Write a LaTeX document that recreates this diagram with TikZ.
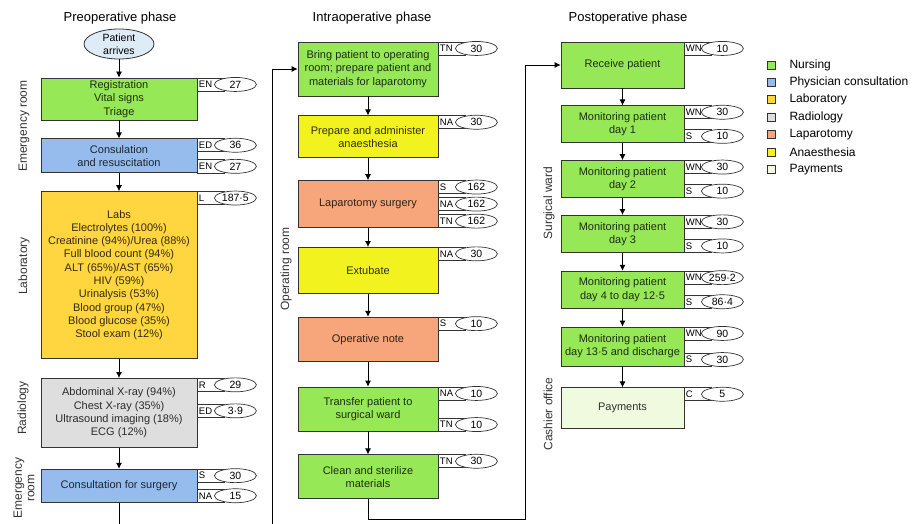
\documentclass[tikz,border=0pt]{standalone}
\usepackage{fontspec}
\setmainfont{Liberation Sans}
\usetikzlibrary{shapes.geometric, arrows, positioning, calc, arrows.meta}

\definecolor{nursing}{RGB}{150,232,86}
\definecolor{physician}{RGB}{150,188,238}
\definecolor{laboratory}{RGB}{255,214,64}
\definecolor{radiology}{RGB}{222,222,222}
\definecolor{laparotomy}{RGB}{247,165,122}
\definecolor{anaesthesia}{RGB}{242,242,30}
\definecolor{payments}{RGB}{240,250,222}
\definecolor{arrival}{RGB}{222,236,248}

\tikzstyle{arrow} = [-{Latex[length=6pt,width=6pt]}, line width=0.8pt]
\tikzstyle{stage} = [draw=black!80, line width=0.8pt, rectangle, align=center, inner sep=1pt, font=\fontsize{11}{13.3}\selectfont]
\tikzstyle{nurse} = [stage, fill=nursing, text=nursing!20!black]
\tikzstyle{doctor} = [stage, fill=physician, text=physician!20!black]
\tikzstyle{lab} = [stage, fill=laboratory, text=laboratory!20!black]
\tikzstyle{radio} = [stage, fill=radiology, text=radiology!20!black]
\tikzstyle{surgery} = [stage, fill=laparotomy, text=laparotomy!20!black]
\tikzstyle{anaes} = [stage, fill=anaesthesia, text=anaesthesia!20!black]
\tikzstyle{cashier} = [stage, fill=payments, text=payments!20!black]
\tikzstyle{tagbox} = [draw=black!80, line width=0.7pt, rectangle, minimum height=13pt, inner sep=1.2pt, text width=24pt, align=left, font=\fontsize{9.5}{9.5}\selectfont]
\tikzstyle{costoval} = [draw=black!80, line width=0.7pt, ellipse, fill=white, minimum width=42pt, minimum height=14pt, inner sep=0pt, font=\fontsize{10.5}{10.5}\selectfont]
\tikzstyle{phase} = [font=\fontsize{13}{15}\selectfont]
\tikzstyle{place} = [rotate=90, align=center, text=black!80, font=\fontsize{12}{12.5}\selectfont]
\tikzstyle{legendkey} = [draw=black!80, line width=0.7pt, minimum size=8pt, inner sep=0pt]
\tikzstyle{legendtext} = [inner sep=0pt, font=\fontsize{12}{14}\selectfont]

% #1 name, #2 anchor, #3 point, #4 staff, #5 minutes
\newcommand{\costtag}[5]{%
  \node[tagbox, anchor=#2] (#1) at #3 {#4};
  \node[costoval] (#1v) at ([xshift=38pt]#1.west) {#5};}

\begin{document}
\begin{tikzpicture}[x=1pt, y=-1pt]
\useasboundingbox (0,0) rectangle (921,524);

\node[phase] (pre) at (120,18) {Preoperative phase};
\node[phase] (intra) at (372,18) {Intraoperative phase};
\node[phase] (post) at (628,18) {Postoperative phase};

% preoperative
\node[ellipse, draw=black!80, line width=0.8pt, fill=arrival, minimum width=70pt, minimum height=30pt, inner sep=0pt, align=center, font=\fontsize{10.5}{13}\selectfont] (arrives) at (119,44) {Patient\\arrives};
\node[nurse, minimum width=156pt, minimum height=42pt] (reg) at (119,99) {Registration\\Vital signs\\Triage};
\node[doctor, minimum width=156pt, minimum height=34pt, below=18pt of reg] (cons) {Consulation\\and resuscitation};
\node[lab, minimum width=156pt, minimum height=167pt, below=18pt of cons] (labs) {Labs\\Electrolytes (100\%)\\Creatinine (94\%)/Urea (88\%)\\Full blood count (94\%)\\ALT (65\%)/AST (65\%)\\HIV (59\%)\\Urinalysis (53\%)\\Blood group (47\%)\\Blood glucose (35\%)\\Stool exam (12\%)};
\node[radio, minimum width=156pt, minimum height=69pt, below=19pt of labs] (rad) {Abdominal X-ray (94\%)\\Chest X-ray (35\%)\\Ultrasound imaging (18\%)\\ECG (12\%)};
\node[doctor, minimum width=156pt, minimum height=33pt, below=21pt of rad] (surg) {Consultation for surgery};

\costtag{reg-en}{north west}{(reg.north east)}{EN}{27}
\costtag{cons-ed}{north west}{(cons.north east)}{ED}{36}
\costtag{cons-en}{south west}{(cons.south east)}{EN}{27}
\costtag{labs-l}{north west}{(labs.north east)}{L}{187·5}
\costtag{rad-r}{north west}{(rad.north east)}{R}{29}
\costtag{rad-ed}{north west}{([yshift=-26pt]rad.north east)}{ED}{3·9}
\costtag{surg-s}{north west}{(surg.north east)}{S}{30}
\costtag{surg-na}{south west}{(surg.south east)}{NA}{15}

\node[place] (er1) at (24,126) {Emergency room};
\node[place] (labside) at (24,266) {Laboratory};
\node[place] (radside) at (23,408) {Radiology};
\node[place] (er2) at (24,488) {Emergency\\room};

% intraoperative
\node[nurse, minimum width=140pt, minimum height=54pt] (bring) at (368,69) {Bring patient to operating\\room; prepare patient and\\materials for laparotomy};
\node[anaes, minimum width=140pt, minimum height=42pt, below=19pt of bring] (anae) {Prepare and administer\\anaesthesia};
\node[surgery, minimum width=140pt, minimum height=47pt, below=22pt of anae] (lap) {Laparotomy surgery};
\node[anaes, minimum width=140pt, minimum height=46pt, below=19pt of lap] (extub) {Extubate};
\node[surgery, minimum width=140pt, minimum height=44pt, below=23pt of extub] (opnote) {Operative note};
\node[nurse, minimum width=140pt, minimum height=44pt, below=25pt of opnote] (transfer) {Transfer patient to\\surgical ward};
\node[nurse, minimum width=140pt, minimum height=44pt, below=23pt of transfer] (clean) {Clean and sterilize\\materials};

\costtag{bring-tn}{north west}{(bring.north east)}{TN}{30}
\costtag{anae-na}{north west}{(anae.north east)}{NA}{30}
\costtag{lap-s}{north west}{(lap.north east)}{S}{162}
\costtag{lap-na}{west}{(lap.east)}{NA}{162}
\costtag{lap-tn}{south west}{(lap.south east)}{TN}{162}
\costtag{extub-na}{north west}{(extub.north east)}{NA}{30}
\costtag{opnote-s}{north west}{(opnote.north east)}{S}{10}
\costtag{transfer-na}{north west}{(transfer.north east)}{NA}{10}
\costtag{transfer-tn}{south west}{(transfer.south east)}{TN}{10}
\costtag{clean-tn}{north west}{(clean.north east)}{TN}{30}

\node[place] (orside) at (286,269) {Operating room};

% postoperative
\node[nurse, minimum width=123pt, minimum height=46pt] (receive) at (622.5,65) {Receive patient};
\node[nurse, minimum width=123pt, minimum height=37pt, below=17pt of receive] (day1) {Monitoring patient\\day 1};
\node[nurse, minimum width=123pt, minimum height=37pt, below=17pt of day1] (day2) {Monitoring patient\\day 2};
\node[nurse, minimum width=123pt, minimum height=37pt, below=17pt of day2] (day3) {Monitoring patient\\day 3};
\node[nurse, minimum width=123pt, minimum height=37pt, below=18pt of day3] (day4) {Monitoring patient\\day 4 to day 12·5};
\node[nurse, minimum width=123pt, minimum height=39pt, below=18pt of day4] (day13) {Monitoring patient\\day 13·5 and discharge};
\node[cashier, minimum width=123pt, minimum height=41pt, below=21pt of day13] (pay) {Payments};

\costtag{receive-wn}{north west}{(receive.north east)}{WN}{10}
\costtag{day1-wn}{north west}{(day1.north east)}{WN}{30}
\costtag{day1-s}{south west}{(day1.south east)}{S}{10}
\costtag{day2-wn}{north west}{(day2.north east)}{WN}{30}
\costtag{day2-s}{south west}{(day2.south east)}{S}{10}
\costtag{day3-wn}{north west}{(day3.north east)}{WN}{30}
\costtag{day3-s}{south west}{(day3.south east)}{S}{10}
\costtag{day4-wn}{north west}{(day4.north east)}{WN}{259·2}
\costtag{day4-s}{south west}{(day4.south east)}{S}{86·4}
\costtag{day13-wn}{north west}{(day13.north east)}{WN}{90}
\costtag{day13-s}{south west}{(day13.south east)}{S}{30}
\costtag{pay-c}{north west}{(pay.north east)}{C}{5}

\node[place] (swside) at (549,203) {Surgical ward};
\node[place] (coside) at (548,414) {Cashier office};

% legend
\node[legendkey, fill=nursing] (key1) at (771,65) {};
\node[legendtext, right=14pt of key1] (leg1) {Nursing};
\node[legendkey, fill=physician] (key2) at (771,82.4) {};
\node[legendtext, right=14pt of key2] (leg2) {Physician consultation};
\node[legendkey, fill=laboratory] (key3) at (771,99.8) {};
\node[legendtext, right=14pt of key3] (leg3) {Laboratory};
\node[legendkey, fill=radiology] (key4) at (771,117.2) {};
\node[legendtext, right=14pt of key4] (leg4) {Radiology};
\node[legendkey, fill=laparotomy] (key5) at (771,134.6) {};
\node[legendtext, right=14pt of key5] (leg5) {Laparotomy};
\node[legendkey, fill=anaesthesia] (key6) at (771,152) {};
\node[legendtext, right=14pt of key6] (leg6) {Anaesthesia};
\node[legendkey, fill=payments] (key7) at (771,169.4) {};
\node[legendtext, right=14pt of key7] (leg7) {Payments};

% flow
\coordinate (down1) at (272,560);
\coordinate (down2) at (525,519);
\path[arrow]
(arrives) edge (reg)
(reg) edge (cons)
(cons) edge (labs)
(labs) edge (rad)
(rad) edge (surg)
(bring) edge (anae)
(anae) edge (lap)
(lap) edge (extub)
(extub) edge (opnote)
(opnote) edge (transfer)
(transfer) edge (clean)
(receive) edge (day1)
(day1) edge (day2)
(day2) edge (day3)
(day3) edge (day4)
(day4) edge (day13)
(day13) edge (pay);
\draw[arrow] (surg.south) |- (down1) |- (bring.west);
\draw[arrow] (clean.south) |- (down2) |- (receive.west);
\end{tikzpicture}
\end{document}
